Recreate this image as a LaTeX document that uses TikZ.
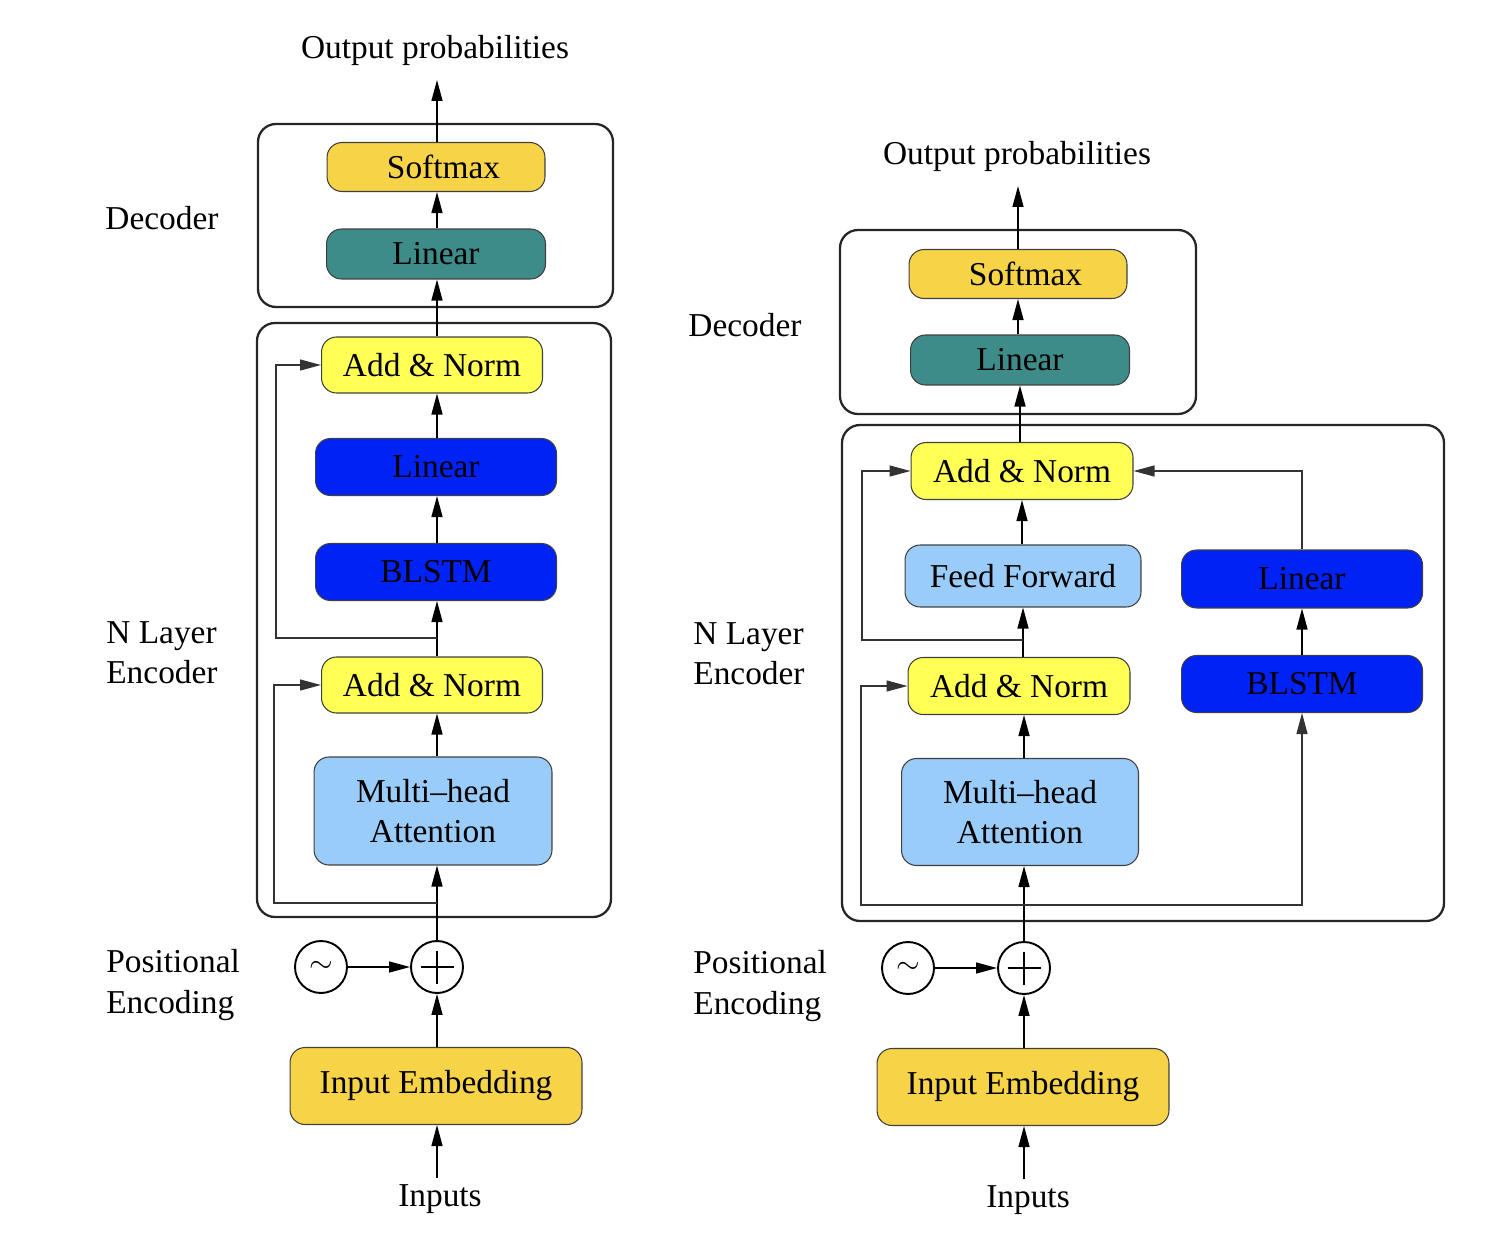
\documentclass[tikz,border=0pt]{standalone}
\usepackage{fontspec}
\setmainfont{Liberation Serif}
\usetikzlibrary{arrows.meta}
\definecolor{gold}{HTML}{F7D447}
\definecolor{teal2}{HTML}{3E8C89}
\definecolor{yel}{HTML}{FFFF55}
\definecolor{blu}{HTML}{0022F5}
\definecolor{lblu}{HTML}{99CCF8}
\newcommand{\mytilde}{{\fontsize{18}{18}\selectfont$\sim$}}
\begin{document}
\begin{tikzpicture}[x=0.02cm,y=-0.02cm,font=\fontsize{19}{23}\selectfont,
  blk/.style={draw=black!75, line width=0.6pt, rounded corners=0.3cm, text=black, inner sep=0pt},
  cont/.style={draw=black!85, line width=1.3pt, rounded corners=0.36cm},
  arr/.style={-{Triangle[length=0.42cm,width=0.22cm]}, line width=0.8pt},
  skip/.style={arr, draw=black!80, line width=0.7pt},
  lbl/.style={align=left, anchor=west, inner sep=0pt},
  circ/.style={circle, draw, line width=1.1pt, minimum size=1.04cm, inner sep=0pt},
  pluscirc/.style={circ, path picture={\draw[line width=1.3pt]
     ([xshift=-0.33cm]path picture bounding box.center) -- ([xshift=0.33cm]path picture bounding box.center)
     ([yshift=-0.33cm]path picture bounding box.center) -- ([yshift=0.33cm]path picture bounding box.center);}}
]
\useasboundingbox (0,0) rectangle (1506,1256);

% ================= LEFT =================
\draw[cont] (258,124) rectangle (613,307);
\draw[cont] (257,323) rectangle (611,917);

\node (outL) at (435,50) {Output probabilities};
\coordinate (tipL) at (436,80);
\node[blk, fill=gold, minimum width=4.36cm, minimum height=0.98cm] (softL) at (436,167) {\hspace*{0.3cm}Softmax};
\node[blk, fill=teal2, minimum width=4.38cm, minimum height=1.0cm] (linTL) at (436,254) {Linear};
\node[blk, fill=yel, minimum width=4.42cm, minimum height=1.12cm] (anL1) at (432,365) {Add \& Norm};
\node[blk, fill=blu, minimum width=4.82cm, minimum height=1.14cm] (linBL) at (436,467) {Linear};
\node[blk, fill=blu, minimum width=4.82cm, minimum height=1.14cm] (blstmL) at (436,572) {BLSTM};
\node[blk, fill=yel, minimum width=4.42cm, minimum height=1.12cm] (anL2) at (432,685) {Add \& Norm};
\node[blk, fill=lblu, minimum width=4.76cm, minimum height=2.16cm, align=center] (mhL) at (433,811) {Multi\textendash head\\Attention};
\node[circ] (tildeL) at (321,967) {\mytilde};
\node[pluscirc] (plusL) at (437,967) {};
\node[blk, fill=gold, minimum width=5.84cm, minimum height=1.54cm] (embL) at (436,1086) {Input Embedding};
\node (inL) at (440,1199) {Inputs};

\node (decLblL) at (162,218) {Decoder};
\node[lbl] (encLblL) at (106,653) {N Layer\\Encoder};
\node[lbl] (posLblL) at (106,985) {Positional\\Encoding};

\draw[arr] (inL.north -| plusL.south) -- (plusL.south |- embL.south);
\draw[arr] (plusL.south |- embL.north) -- (plusL.south);
\draw[arr] (tildeL) -- (plusL);
\draw[arr] (plusL.north) -- (plusL.north |- mhL.south);
\draw[arr] (plusL.north |- mhL.north) -- (plusL.north |- anL2.south);
\draw[arr] (plusL.north |- anL2.north) -- (plusL.north |- blstmL.south);
\draw[arr] (plusL.north |- blstmL.north) -- (plusL.north |- linBL.south);
\draw[arr] (plusL.north |- linBL.north) -- (plusL.north |- anL1.south);
\draw[arr] (plusL.north |- anL1.north) -- (plusL.north |- linTL.south);
\draw[arr] (plusL.north |- linTL.north) -- (plusL.north |- softL.south);
\draw[arr] (plusL.north |- softL.north) -- (plusL.north |- tipL);

\coordinate (sL1) at (437,638);
\coordinate (kL1) at (276,638);
\draw[skip] (sL1) -- (kL1) |- (anL1.west);
\coordinate (sL2) at (437,903);
\coordinate (kL2) at (274,903);
\draw[skip] (sL2) -- (kL2) |- (anL2.west);

% ================= RIGHT =================
\draw[cont] (840,230) rectangle (1196,414);
\draw[cont] (842,425) rectangle (1444,921);

\node (outR) at (1017,156) {Output probabilities};
\coordinate (tipR) at (1022,186);
\node[blk, fill=gold, minimum width=4.36cm, minimum height=0.98cm] (softR) at (1018,274) {\hspace*{0.3cm}Softmax};
\node[blk, fill=teal2, minimum width=4.38cm, minimum height=1.0cm] (linTR) at (1020,360) {Linear};
\node[blk, fill=yel, minimum width=4.44cm, minimum height=1.14cm] (anR1) at (1022,471) {Add \& Norm};
\node[blk, fill=lblu, minimum width=4.72cm, minimum height=1.24cm] (ffR) at (1023,576) {Feed Forward};
\node[blk, fill=blu, minimum width=4.82cm, minimum height=1.16cm] (linBR) at (1302,579) {Linear};
\node[blk, fill=blu, minimum width=4.82cm, minimum height=1.14cm] (blstmR) at (1302,684) {BLSTM};
\node[blk, fill=yel, minimum width=4.44cm, minimum height=1.14cm] (anR2) at (1019,686) {Add \& Norm};
\node[blk, fill=lblu, minimum width=4.74cm, minimum height=2.14cm, align=center] (mhR) at (1020,812) {Multi\textendash head\\Attention};
\node[circ] (tildeR) at (908,968) {\mytilde};
\node[pluscirc] (plusR) at (1024,968) {};
\node[blk, fill=gold, minimum width=5.84cm, minimum height=1.54cm] (embR) at (1023,1087) {Input Embedding};
\node (inR) at (1028,1200) {Inputs};

\node (decLblR) at (745,325) {Decoder};
\node[lbl] (encLblR) at (693,654) {N Layer\\Encoder};
\node[lbl] (posLblR) at (693,986) {Positional\\Encoding};

\draw[arr] (inR.north -| plusR.south) -- (plusR.south |- embR.south);
\draw[arr] (plusR.south |- embR.north) -- (plusR.south);
\draw[arr] (tildeR) -- (plusR);
\draw[arr] (plusR.north) -- (plusR.north |- mhR.south);
\draw[arr] (plusR.north |- mhR.north) -- (plusR.north |- anR2.south);
\draw[arr] (ffR.north -| anR1.south) -- (anR1.south);
\draw[arr] (anR2.north -| ffR.south) -- (ffR.south);
\draw[arr] (anR1.north -| linTR.south) -- (linTR.south);
\draw[arr] (linTR.north -| softR.south) -- (softR.south);
\draw[arr] (softR.north) -- (tipR -| softR.north);
\draw[arr] (blstmR.north) -- (linBR.south);
\draw[skip] (linBR.north) |- (anR1.east);

\coordinate (sR1) at (1023,640);
\coordinate (kR1) at (862,640);
\draw[skip] (sR1) -- (kR1) |- (anR1.west);
\coordinate (sR2) at (1024,905);
\coordinate (kR2) at (861,905);
\draw[skip] (sR2) -- (kR2) |- (anR2.west);
\draw[skip] (sR2) -| (blstmR.south);
\end{tikzpicture}
\end{document}
